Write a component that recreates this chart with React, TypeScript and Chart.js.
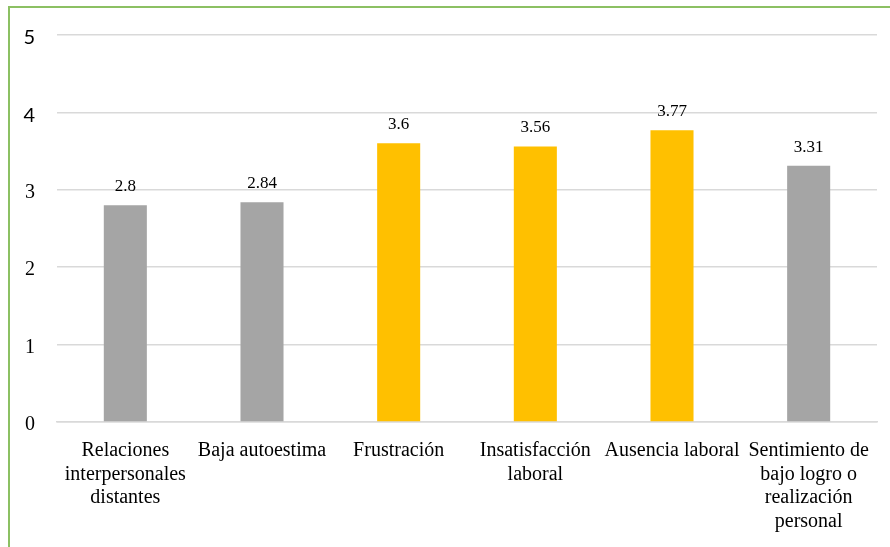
import React, { useEffect, useRef } from "react";
import { Chart, registerables } from "chart.js";

Chart.register(...registerables);

const categories: string[][] = [
  ["Relaciones", "interpersonales", "distantes"],
  ["Baja autoestima"],
  ["Frustración"],
  ["Insatisfacción", "laboral"],
  ["Ausencia laboral"],
  ["Sentimiento de", "bajo logro o", "realización", "personal"],
];
const values: number[] = [2.8, 2.84, 3.6, 3.56, 3.77, 3.31];
const valueLabels: string[] = ["2.8", "2.84", "3.6", "3.56", "3.77", "3.31"];
const barColors: string[] = ["#A5A5A5", "#A5A5A5", "#FFC000", "#FFC000", "#FFC000", "#A5A5A5"];
const yTicks: number[] = [0, 1, 2, 3, 4, 5];

const FONT = "'Liberation Serif', 'Times New Roman', serif";
const SANS = "Lato, 'Open Sans', sans-serif";

const dataLabelPlugin = {
  id: "dataLabels",
  afterDatasetsDraw(chart: any) {
    const ctx = chart.ctx;
    const meta = chart.getDatasetMeta(0);
    ctx.save();
    ctx.font = `17px ${FONT}`;
    ctx.fillStyle = "#000";
    ctx.textAlign = "center";
    ctx.textBaseline = "bottom";
    meta.data.forEach((bar: any, i: number) => {
      ctx.fillText(valueLabels[i], bar.x, bar.y - 10);
    });
    ctx.restore();
  },
};

export default function App() {
  const ref = useRef<HTMLCanvasElement>(null);
  useEffect(() => {
    if (!ref.current) return;
    const chart = new Chart(ref.current, {
      type: "bar",
      data: {
        labels: categories,
        datasets: [
          {
            data: values,
            backgroundColor: barColors,
            barPercentage: 0.315,
            categoryPercentage: 1,
          },
        ],
      },
      options: {
        animation: false,
        responsive: false,
        maintainAspectRatio: false,
        layout: { padding: { top: 35, right: 13, left: 0, bottom: 0 } },
        plugins: {
          legend: { display: false },
          tooltip: { enabled: false },
        },
        scales: {
          x: {
            grid: { display: false, drawTicks: false },
            border: { display: true, color: "#D9D9D9", width: 1.5 },
            ticks: {
              autoSkip: false,
              maxRotation: 0,
              minRotation: 0,
              padding: 17,
              color: "#000",
              font: { family: FONT, size: 20, lineHeight: 1.18 },
            },
            afterFit: (s: any) => {
              s.height = 125;
            },
          },
          y: {
            min: 0,
            max: 5,
            afterBuildTicks: (s: any) => {
              s.ticks = yTicks.map((v) => ({ value: v }));
            },
            grid: { color: "#D9D9D9", lineWidth: 1.5, drawTicks: false },
            border: { display: false },
            ticks: {
              padding: 22,
              labelOffset: 3,
              color: "#000",
              font: (c: any) =>
                c.tick && c.tick.value >= 4
                  ? { family: SANS, size: 20 }
                  : { family: FONT, size: 20 },
            },
            afterFit: (s: any) => {
              s.width = 57;
            },
          },
        },
      },
      plugins: [dataLabelPlugin],
    });
    return () => chart.destroy();
  }, []);
  return (
    <div
      style={{
        position: "fixed",
        left: 0,
        top: 0,
        width: 890,
        height: 547,
        background: "#fff",
      }}
    >
      <canvas
        ref={ref}
        width={890}
        height={547}
        style={{ position: "absolute", left: 0, top: 0, width: 890, height: 547 }}
      />
      <div
        style={{
          position: "absolute",
          left: 8,
          top: 6,
          width: 882,
          height: 541,
          borderLeft: "2px solid #8CC063",
          borderTop: "2px solid #8CC063",
          pointerEvents: "none",
        }}
      />
    </div>
  );
}
